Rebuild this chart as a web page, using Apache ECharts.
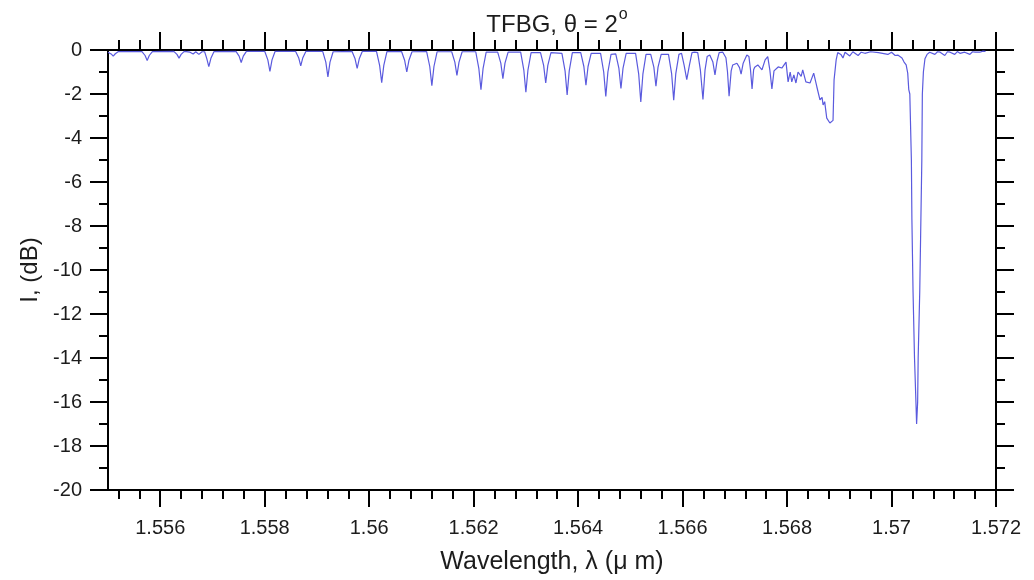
<!DOCTYPE html>
<html>
<head>
<meta charset="utf-8">
<script src="https://cdn.jsdelivr.net/npm/echarts@6/dist/echarts.min.js"></script>
<style>
  html, body { margin: 0; padding: 0; background: #fff; }
  #chart { width: 1034px; height: 580px; }
</style>
</head>
<body>
<div id="chart"></div>
<script>
// ---- data (wavelength in µm, transmission in dB) ----
const wavelengthUm = [
  1.55500, 1.55506, 1.55510, 1.55514, 1.55520,
  1.55565, 1.55571, 1.55575, 1.55579, 1.55585,
  1.55626, 1.55632, 1.55636, 1.55640, 1.55646,
  1.55657, 1.55663, 1.55668, 1.55674, 1.55680,
  1.55685, 1.55689, 1.55693, 1.55697, 1.55703,
  1.55745, 1.55751, 1.55755, 1.55759, 1.55765,
  1.55800, 1.55806, 1.55810, 1.55814, 1.55820,
  1.55859, 1.55865, 1.55869, 1.55873, 1.55879,
  1.55911, 1.55917, 1.55921, 1.55925, 1.55931,
  1.55967, 1.55973, 1.55977, 1.55981, 1.55987,
  1.56014, 1.56020, 1.56024, 1.56028, 1.56034,
  1.56062, 1.56068, 1.56072, 1.56076, 1.56082,
  1.56110, 1.56116, 1.56120, 1.56124, 1.56130,
  1.56158, 1.56164, 1.56168, 1.56172, 1.56178,
  1.56204, 1.56210, 1.56214, 1.56218, 1.56224,
  1.56246, 1.56252, 1.56256, 1.56260, 1.56266,
  1.56290, 1.56296, 1.56300, 1.56304, 1.56310,
  1.56328, 1.56334, 1.56338, 1.56342, 1.56348,
  1.56369, 1.56375, 1.56379, 1.56383, 1.56389,
  1.56405, 1.56411, 1.56415, 1.56419, 1.56425,
  1.56443, 1.56449, 1.56453, 1.56457, 1.56463,
  1.56472, 1.56478, 1.56482, 1.56486, 1.56492,
  1.56510, 1.56516, 1.56520, 1.56524, 1.56530,
  1.56539, 1.56545, 1.56549, 1.56553, 1.56559,
  1.56573, 1.56579, 1.56583, 1.56587, 1.56593,
  1.56598, 1.56603, 1.56608, 1.56613, 1.56618,
  1.56623, 1.56629,
  1.56634, 1.56639, 1.56643, 1.56647, 1.56652,
  1.56658, 1.56662, 1.56666, 1.56670, 1.56677, 1.56683,
  1.56686, 1.56689, 1.56693, 1.56696, 1.56704,
  1.56709, 1.56712, 1.56716, 1.56723, 1.56727,
  1.56730, 1.56733, 1.56736, 1.56738, 1.56744, 1.56752, 1.56758, 1.56763,
  1.56767, 1.56771, 1.56775, 1.56777, 1.56783, 1.56790, 1.56798,
  1.56802, 1.56806, 1.56809, 1.56813, 1.56817, 1.56821, 1.56827, 1.56830,
  1.56836, 1.56844, 1.56851, 1.56857, 1.56863, 1.56867, 1.56869, 1.56872,
  1.56876, 1.56882, 1.56888, 1.56890, 1.56894, 1.56897, 1.56903, 1.56907, 1.56911,
  1.56920, 1.56926, 1.56936, 1.56942, 1.56949, 1.56960, 1.56975, 1.56993, 1.57000,
  1.57007, 1.57012, 1.57020, 1.57024, 1.57028, 1.57031, 1.57033, 1.57035,
  1.57038, 1.57039, 1.570412, 1.57044, 1.57047, 1.57048, 1.57050, 1.57051,
  1.57054, 1.57056, 1.57058, 1.57059, 1.57061, 1.57064, 1.57068, 1.57073,
  1.57083, 1.57088, 1.57093, 1.57102, 1.57107, 1.57112, 1.57121, 1.57126,
  1.57131, 1.57140, 1.57150, 1.57155, 1.57160, 1.57169, 1.57175, 1.57180
];
const intensityDb = [
  -0.10, -0.18, -0.28, -0.17, -0.07,
  -0.07, -0.25, -0.48, -0.25, -0.07,
  -0.06, -0.20, -0.37, -0.20, -0.06,
  -0.10, -0.18, -0.08, -0.20, -0.08,
  -0.08, -0.38, -0.76, -0.38, -0.07,
  -0.06, -0.28, -0.57, -0.28, -0.06,
  -0.06, -0.45, -0.97, -0.45, -0.06,
  -0.06, -0.35, -0.72, -0.35, -0.06,
  -0.06, -0.55, -1.22, -0.55, -0.08,
  -0.06, -0.40, -0.83, -0.40, -0.06,
  -0.06, -0.70, -1.48, -0.70, -0.07,
  -0.07, -0.48, -1.00, -0.48, -0.08,
  -0.07, -0.75, -1.62, -0.75, -0.08,
  -0.08, -0.55, -1.15, -0.55, -0.08,
  -0.08, -0.85, -1.80, -0.85, -0.10,
  -0.10, -0.60, -1.30, -0.60, -0.10,
  -0.10, -0.90, -1.92, -0.90, -0.12,
  -0.12, -0.70, -1.50, -0.70, -0.12,
  -0.15, -0.95, -2.04, -0.95, -0.12,
  -0.12, -0.75, -1.60, -0.75, -0.15,
  -0.15, -1.00, -2.11, -1.00, -0.20,
  -0.18, -0.82, -1.75, -0.82, -0.15,
  -0.15, -1.10, -2.36, -1.10, -0.20,
  -0.20, -0.78, -1.65, -0.78, -0.20,
  -0.20, -1.07, -2.28, -1.07, -0.20,
  -0.15, -0.70, -1.35, -0.70, -0.12,
  -0.10, -0.12,
  -0.90, -2.25, -0.90, -0.30, -0.23,
  -0.55, -1.13, -0.50, -0.12, -0.10, -0.35,
  -1.00, -2.10, -0.95, -0.68, -0.60,
  -0.80, -1.10, -0.60, -0.23, -0.30,
  -0.90, -1.77, -0.90, -0.78, -0.68, -0.90, -0.45, -0.30,
  -0.90, -1.77, -0.95, -0.90, -0.77, -0.82, -0.55,
  -1.45, -1.00, -1.45, -1.13, -1.50, -1.00, -1.20, -0.90,
  -1.45, -1.50, -1.05, -1.67, -2.27, -2.15, -2.50, -2.35,
  -3.10, -3.32, -3.20, -1.36, -0.45, -0.12, -0.20, -0.36, -0.10,
  -0.27, -0.08, -0.25, -0.10, -0.15, -0.08, -0.12, -0.20, -0.10,
  -0.25, -0.23, -0.36, -0.55, -0.68, -1.05, -1.80, -2.00,
  -5.00, -7.70, -11.00, -14.00, -16.20, -17.00, -16.00, -14.00,
  -11.00, -8.00, -5.00, -2.00, -1.00, -0.40, -0.20, -0.10,
  -0.20, -0.08, -0.10, -0.25, -0.08, -0.10, -0.20, -0.07,
  -0.15, -0.10, -0.20, -0.08, -0.10, -0.10, -0.05, -0.06
];

// tick labels
const xMajorTicks = [1.556, 1.558, 1.56, 1.562, 1.564, 1.566, 1.568, 1.57, 1.572];
const xMinorTicks = [];
for (let k = 0; k <= 41; k++) {
  const v = +(1.5552 + k * 0.0004).toFixed(4);
  if (!xMajorTicks.some(m => Math.abs(m - v) < 1e-7)) xMinorTicks.push(v);
}
const xMin = 1.555, xMax = 1.572;
const yMin = -20, yMax = 0, yStep = 2;

const titleMain = 'TFBG, θ = 2';
const titleSup = 'o';
const xName = 'Wavelength, λ (μ m)';
const yName = 'I, (dB)';

const FONT = '"Liberation Sans", Arial, sans-serif';
const INK = '#1c1c1c';
const axisLineStyle = { color: '#000', width: 2 };

const seriesData = wavelengthUm.map((w, i) => [w, intensityDb[i]]);

function xAxisDef(position, ticks, len, withLabels) {
  return {
    type: 'value', min: xMin, max: xMax, position: position,
    axisLine: { show: true, onZero: false, lineStyle: axisLineStyle },
    axisTick: { show: true, customValues: ticks, length: len, inside: false, lineStyle: { color: '#000', width: 2 } },
    axisLabel: withLabels
      ? { show: true, customValues: xMajorTicks, fontSize: 20, margin: 28, color: INK, fontFamily: FONT }
      : { show: false },
    splitLine: { show: false },
    minorTick: { show: false }
  };
}
function yAxisDef(position, withLabels) {
  return {
    type: 'value', min: yMin, max: yMax, interval: yStep, position: position,
    axisLine: { show: true, onZero: false, lineStyle: axisLineStyle },
    axisTick: { show: true, length: 18, inside: false, lineStyle: { color: '#000', width: 2 } },
    minorTick: { show: true, splitNumber: 2, length: 9, lineStyle: { color: '#000', width: 2 } },
    axisLabel: withLabels
      ? { show: true, fontSize: 20, margin: 26, color: INK, fontFamily: FONT }
      : { show: false },
    splitLine: { show: false },
    minorSplitLine: { show: false }
  };
}

const xBottom = xAxisDef('bottom', xMajorTicks, 17, true);
xBottom.name = xName;
xBottom.nameLocation = 'middle';
xBottom.nameGap = 60;
xBottom.nameTextStyle = { fontSize: 25, color: INK, fontFamily: FONT };

const yLeft = yAxisDef('left', true);
yLeft.name = yName;
yLeft.nameLocation = 'middle';
yLeft.nameGap = 66;
yLeft.nameTextStyle = { fontSize: 24, color: INK, fontFamily: FONT };

const chart = echarts.init(document.getElementById('chart'), null, { renderer: 'canvas' });
chart.setOption({
  backgroundColor: '#ffffff',
  animation: false,
  title: {
    text: '{m|' + titleMain + '}{s|' + titleSup + '}',
    left: 552, top: 2, textAlign: 'center',
    textStyle: {
      fontWeight: 'normal',
      rich: {
        m: { fontSize: 24, fontWeight: 'normal', color: INK, fontFamily: FONT, lineHeight: 30, verticalAlign: 'bottom' },
        s: { fontSize: 16, fontWeight: 'normal', color: INK, fontFamily: FONT, lineHeight: 30, verticalAlign: 'top', padding: [0, 0, 0, 1] }
      }
    }
  },
  grid: { left: 108, right: 38, top: 50, bottom: 89, containLabel: false },
  xAxis: [
    xBottom,
    xAxisDef('bottom', xMinorTicks, 9, false),
    xAxisDef('top', xMajorTicks, 18, false),
    xAxisDef('top', xMinorTicks, 10, false)
  ],
  yAxis: [ yLeft, yAxisDef('right', false) ],
  series: [{
    type: 'line',
    xAxisIndex: 0, yAxisIndex: 0,
    data: seriesData,
    showSymbol: false,
    symbol: 'none',
    sampling: 'none',
    lineStyle: { color: '#5a5ade', width: 1.2 },
    z: 1
  }]
});
</script>
</body>
</html>
